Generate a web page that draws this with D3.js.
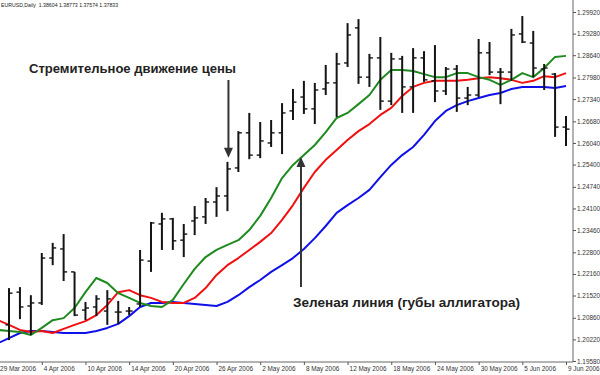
<!DOCTYPE html>
<html>
<head>
<meta charset="utf-8">
<script src="https://cdn.jsdelivr.net/npm/d3@7"></script>
<style>
  body { margin: 0; background: #fff; }
  svg { display: block; font-family: "Liberation Sans", Arial, sans-serif; }
</style>
</head>
<body>
<div id="chart"></div>
<script>
// Trading days shown on the chart
const dates = [
    "29 Mar 2006", "30 Mar 2006", "31 Mar 2006", "3 Apr 2006", "4 Apr 2006", "5 Apr 2006", "6 Apr 2006",
    "7 Apr 2006", "10 Apr 2006", "11 Apr 2006", "12 Apr 2006", "13 Apr 2006", "14 Apr 2006", "17 Apr 2006",
    "18 Apr 2006", "19 Apr 2006", "20 Apr 2006", "21 Apr 2006", "24 Apr 2006", "25 Apr 2006", "26 Apr 2006",
    "27 Apr 2006", "28 Apr 2006", "1 May 2006", "2 May 2006", "3 May 2006", "4 May 2006", "5 May 2006",
    "8 May 2006", "9 May 2006", "10 May 2006", "11 May 2006", "12 May 2006", "15 May 2006", "16 May 2006",
    "17 May 2006", "18 May 2006", "19 May 2006", "22 May 2006", "23 May 2006", "24 May 2006", "25 May 2006",
    "26 May 2006", "29 May 2006", "30 May 2006", "31 May 2006", "1 Jun 2006", "2 Jun 2006", "5 Jun 2006",
    "6 Jun 2006", "7 Jun 2006", "8 Jun 2006", "9 Jun 2006"
];

// OHLC (first bar is outside the visible area)
const opens = [null,
    1.2065, 1.2162, 1.2121, 1.2130, 1.2263, 1.2290, 1.2222, 1.2109, 1.2118, 1.2106, 1.2103, 1.2106,
    1.2127, 1.2254, 1.2364, 1.2379, 1.2316, 1.2373, 1.2385, 1.2429, 1.2447, 1.2530, 1.2634, 1.2568,
    1.2604, 1.2634, 1.2699, 1.2740, 1.2705, 1.2764, 1.2782, 1.2841, 1.2945, 1.2799, 1.2856, 1.2728,
    1.2853, 1.2770, 1.2856, 1.2788, 1.2758, 1.2823, 1.2737, 1.2746, 1.2871, 1.2814, 1.2814, 1.2927,
    1.2900, 1.2823, 1.2808, 1.2651];
const highs = [null,
    1.2174, 1.2177, 1.2153, 1.2278, 1.2308, 1.2334, 1.2222, 1.2133, 1.2153, 1.2168, 1.2136, 1.2118,
    1.2287, 1.2370, 1.2397, 1.2382, 1.2364, 1.2417, 1.2441, 1.2473, 1.2548, 1.2639, 1.2693, 1.2666,
    1.2672, 1.2722, 1.2764, 1.2788, 1.2782, 1.2835, 1.2871, 1.2959, 1.2971, 1.2868, 1.2918, 1.2871,
    1.2862, 1.2885, 1.2876, 1.2894, 1.2829, 1.2835, 1.2770, 1.2912, 1.2903, 1.2826, 1.2942, 1.2980,
    1.2936, 1.2838, 1.2811, 1.2684];
const lows = [null,
    1.2020, 1.2082, 1.2035, 1.2124, 1.2242, 1.2195, 1.2091, 1.2079, 1.2091, 1.2065, 1.2068, 1.2094,
    1.2118, 1.2222, 1.2287, 1.2287, 1.2266, 1.2331, 1.2364, 1.2385, 1.2402, 1.2518, 1.2556, 1.2559,
    1.2592, 1.2571, 1.2672, 1.2690, 1.2660, 1.2746, 1.2681, 1.2829, 1.2779, 1.2770, 1.2702, 1.2716,
    1.2693, 1.2693, 1.2785, 1.2725, 1.2746, 1.2696, 1.2716, 1.2740, 1.2805, 1.2719, 1.2788, 1.2900,
    1.2799, 1.2761, 1.2622, 1.2595];
const closes = [null,
    1.2159, 1.2118, 1.2130, 1.2263, 1.2293, 1.2222, 1.2094, 1.2115, 1.2142, 1.2142, 1.2103, 1.2106,
    1.2257, 1.2367, 1.2379, 1.2314, 1.2334, 1.2382, 1.2429, 1.2447, 1.2527, 1.2634, 1.2568, 1.2610,
    1.2634, 1.2693, 1.2725, 1.2705, 1.2761, 1.2782, 1.2838, 1.2924, 1.2799, 1.2856, 1.2728, 1.2853,
    1.2770, 1.2856, 1.2791, 1.2758, 1.2823, 1.2737, 1.2746, 1.2871, 1.2814, 1.2814, 1.2924, 1.2903,
    1.2826, 1.2826, 1.2651, 1.2645];

// Alligator lines
const lips = [
    1.2050, 1.2047, 1.2044, 1.2035, 1.2056, 1.2079, 1.2085, 1.2115, 1.2162, 1.2204, 1.2189, 1.2159,
    1.2145, 1.2130, 1.2121, 1.2118, 1.2139, 1.2186, 1.2231, 1.2266, 1.2287, 1.2302, 1.2316, 1.2346,
    1.2388, 1.2441, 1.2500, 1.2539, 1.2568, 1.2598, 1.2636, 1.2678, 1.2693, 1.2719, 1.2746, 1.2791,
    1.2820, 1.2820, 1.2817, 1.2808, 1.2799, 1.2799, 1.2811, 1.2811, 1.2799, 1.2791, 1.2776, 1.2791,
    1.2811, 1.2799, 1.2826, 1.2859, 1.2862];
const teeth = [
    1.2079, 1.2065, 1.2050, 1.2044, 1.2047, 1.2041, 1.2053, 1.2065, 1.2076, 1.2094, 1.2124, 1.2162,
    1.2168, 1.2153, 1.2145, 1.2133, 1.2130, 1.2130, 1.2145, 1.2174, 1.2213, 1.2242, 1.2263, 1.2287,
    1.2311, 1.2337, 1.2376, 1.2420, 1.2471, 1.2518, 1.2554, 1.2583, 1.2613, 1.2639, 1.2660, 1.2687,
    1.2708, 1.2743, 1.2770, 1.2782, 1.2788, 1.2788, 1.2788, 1.2791, 1.2796, 1.2799, 1.2796, 1.2791,
    1.2782, 1.2788, 1.2802, 1.2799, 1.2811];
const jaw = [
    1.2011, 1.2026, 1.2041, 1.2047, 1.2047, 1.2044, 1.2041, 1.2041, 1.2041, 1.2047, 1.2056, 1.2068,
    1.2091, 1.2118, 1.2130, 1.2130, 1.2133, 1.2130, 1.2127, 1.2124, 1.2121, 1.2133, 1.2153, 1.2177,
    1.2198, 1.2222, 1.2242, 1.2263, 1.2290, 1.2322, 1.2358, 1.2397, 1.2420, 1.2441, 1.2465, 1.2503,
    1.2539, 1.2568, 1.2592, 1.2628, 1.2669, 1.2699, 1.2716, 1.2728, 1.2737, 1.2746, 1.2752, 1.2764,
    1.2770, 1.2770, 1.2770, 1.2767, 1.2773];

const priceTicks = [1.29920, 1.29280, 1.28640, 1.27980, 1.27340, 1.26680, 1.26040, 1.25400, 1.24740,
    1.24100, 1.23460, 1.22800, 1.22160, 1.21520, 1.20860, 1.20220, 1.19580];
const dateTicks = dates.filter((d, i) => i % 4 === 0);

const header = "EURUSD,Daily  1.38604 1.38773 1.37574 1.37833";
const noteTop = "Стремительное движение цены";
const noteBottom = "Зеленая линия (губы аллигатора)";

const width = 600, height = 375;
const axisX = 573, axisY = 362;

const svg = d3.select("#chart").append("svg")
    .attr("width", width)
    .attr("height", height);

svg.append("rect").attr("width", width).attr("height", height).attr("fill", "#fff");

const x = d3.scalePoint().domain(dates).range([-1.9, 566]);
const y = d3.scaleLinear().domain([1.19580, 1.29920]).range([361, 12]);

const plot = svg.append("g");

// Alligator lines (jaw, teeth, lips)
const line = d3.line()
    .x((d, i) => x(dates[i]))
    .y(d => y(d));

[[jaw, "#1010e8"], [teeth, "#f01010"], [lips, "#1f8a1f"]].forEach(([vals, col]) => {
    plot.append("path")
        .datum(vals)
        .attr("d", line)
        .attr("fill", "none")
        .attr("stroke", col)
        .attr("stroke-width", 2)
        .attr("stroke-linejoin", "round");
});

// OHLC bars
const bars = dates.map((d, i) => ({ d, o: opens[i], h: highs[i], l: lows[i], c: closes[i] }))
    .filter(b => b.h !== null);

const bar = plot.selectAll(".bar")
    .data(bars)
    .enter()
    .append("g")
    .attr("class", "bar")
    .attr("stroke", "#141414")
    .attr("stroke-width", 2);

bar.append("line")
    .attr("x1", b => x(b.d)).attr("x2", b => x(b.d))
    .attr("y1", b => y(b.h)).attr("y2", b => y(b.l));
bar.append("line")
    .attr("x1", b => x(b.d) - 3.5).attr("x2", b => x(b.d))
    .attr("y1", b => y(b.o)).attr("y2", b => y(b.o))
    .attr("stroke-width", 1.4);
bar.append("line")
    .attr("x1", b => x(b.d)).attr("x2", b => x(b.d) + 3.5)
    .attr("y1", b => y(b.c)).attr("y2", b => y(b.c))
    .attr("stroke-width", 1.4);

// Axes
svg.append("line")
    .attr("x1", axisX).attr("x2", axisX).attr("y1", 0).attr("y2", axisY)
    .attr("stroke", "#666").attr("stroke-width", 1);
svg.append("line")
    .attr("x1", 0).attr("x2", axisX).attr("y1", axisY).attr("y2", axisY)
    .attr("stroke", "#666").attr("stroke-width", 1);

const yAxis = svg.append("g")
    .attr("transform", `translate(${axisX},0)`)
    .call(d3.axisRight(y).tickValues(priceTicks).tickFormat(d3.format(".5f")).tickSize(3).tickPadding(1));

const xAxis = svg.append("g")
    .attr("transform", `translate(0,${axisY})`)
    .call(d3.axisBottom(x).tickValues(dateTicks).tickSize(3).tickSizeOuter(0));

[yAxis, xAxis].forEach(a => {
    a.select(".domain").remove();
    a.selectAll("line").attr("stroke", "#555");
    a.selectAll("text")
        .attr("fill", "#333")
        .attr("font-family", "'Liberation Sans', Arial, sans-serif")
        .attr("font-size", 6.4);
});
xAxis.selectAll("text")
    .attr("text-anchor", "start")
    .attr("x", 1.5)
    .attr("y", 4)
    .attr("dy", "0.71em");

// Header
svg.append("text")
    .attr("x", 1).attr("y", 7)
    .attr("font-size", 5.2)
    .attr("fill", "#222")
    .attr("xml:space", "preserve")
    .style("white-space", "pre")
    .text(header);

// Annotations
const addNote = (txt, tx, ty, w) => {
    svg.append("text")
        .attr("x", tx).attr("y", ty)
        .attr("font-size", 13.5)
        .attr("font-weight", "bold")
        .attr("fill", "#222")
        .attr("textLength", w)
        .attr("lengthAdjust", "spacingAndGlyphs")
        .text(txt);
};
addNote(noteTop, 29, 73, 207);
addNote(noteBottom, 293, 307, 227);

const addArrow = (ax, yFrom, yTip) => {
    const dir = yTip > yFrom ? 1 : -1;
    svg.append("line")
        .attr("x1", ax).attr("x2", ax)
        .attr("y1", yFrom).attr("y2", yTip - dir * 8)
        .attr("stroke", "#333").attr("stroke-width", 2);
    svg.append("path")
        .attr("d", `M${ax - 4.5},${yTip - dir * 10}L${ax + 4.5},${yTip - dir * 10}L${ax},${yTip}Z`)
        .attr("fill", "#333");
};
addArrow(x(dates[21]) + 1, 80, y(highs[21]) - 4);
addArrow(x(dates[27]) + 8, 287, y(lips[28]) + 2);
</script>
</body>
</html>
